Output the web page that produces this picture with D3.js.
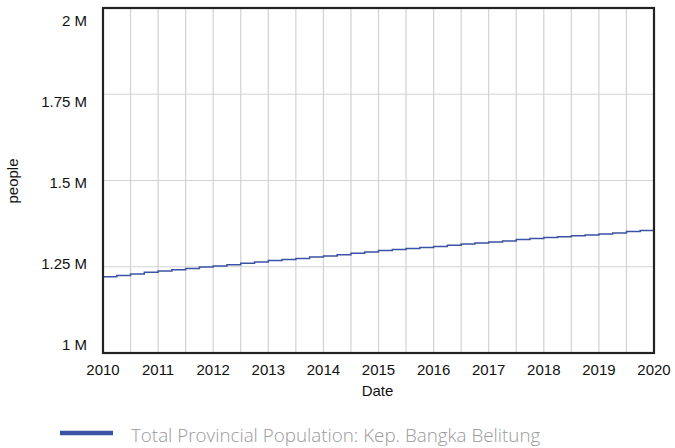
<!DOCTYPE html>
<html>
<head>
<meta charset="utf-8">
<script src="https://cdn.jsdelivr.net/npm/d3@7"></script>
<style>
  body { margin: 0; background: #fff; }
  svg { display: block; }
  .axis-text { font-family: "Liberation Sans", Arial, sans-serif; font-size: 15px; fill: #111; }
  .grid { stroke: #d2d2d2; stroke-width: 1.2; }
</style>
</head>
<body>
<div id="chart"></div>
<script>
const width = 675;
const height = 448;

// quarterly readings, millions of people
const dates = d3.range(0, 41).map(i => 2010 + i / 4);
const population = [
  1.221, 1.225, 1.229, 1.234,
  1.238, 1.241, 1.245, 1.249,
  1.252, 1.256, 1.260, 1.264,
  1.268, 1.271, 1.274, 1.278,
  1.281, 1.285, 1.289, 1.293,
  1.297, 1.300, 1.303, 1.306,
  1.309, 1.312, 1.316, 1.319,
  1.322, 1.325, 1.329, 1.332,
  1.335, 1.337, 1.340, 1.342,
  1.345, 1.348, 1.352, 1.355,
  1.359
];
const yearTicks = d3.range(2010, 2021);
const yTicks = [1, 1.25, 1.5, 1.75, 2];
const yLabels = ['1 M', '1.25 M', '1.5 M', '1.75 M', '2 M'];
const seriesName = 'Total Provincial Population: Kep. Bangka Belitung';

const plotLeft = 103, plotRight = 654, plotTop = 8, plotBottom = 353;

const x = d3.scaleLinear().domain([2010, 2020]).range([plotLeft, plotRight]);
const y = d3.scaleLinear().domain([1, 2]).range([plotBottom, plotTop]);
// tick labels sit slightly inside the frame in the original
const yLabelPos = d3.scaleLinear().domain([1, 2]).range([345, 21]);

const svg = d3.select('#chart')
  .append('svg')
  .attr('width', width)
  .attr('height', height);

// vertical grid every half year
svg.append('g')
  .selectAll('line')
  .data(d3.range(2010.5, 2020, 0.5))
  .enter()
  .append('line')
  .attr('class', 'grid')
  .attr('x1', d => x(d)).attr('x2', d => x(d))
  .attr('y1', plotTop).attr('y2', plotBottom);

// horizontal grid
svg.append('g')
  .selectAll('line')
  .data(yTicks.slice(1, -1))
  .enter()
  .append('line')
  .attr('class', 'grid')
  .attr('x1', plotLeft).attr('x2', plotRight)
  .attr('y1', d => y(d)).attr('y2', d => y(d));

// data line
const line = d3.line()
  .x((d, i) => x(dates[i]))
  .y(d => y(d))
  .curve(d3.curveStepAfter);

svg.append('path')
  .datum(population)
  .attr('fill', 'none')
  .attr('stroke', '#3a53a4')
  .attr('stroke-width', 1.5)
  .attr('d', line);

// frame
svg.append('rect')
  .attr('x', plotLeft).attr('y', plotTop)
  .attr('width', plotRight - plotLeft).attr('height', plotBottom - plotTop)
  .attr('fill', 'none')
  .attr('stroke', '#222')
  .attr('stroke-width', 2.2);

// y labels
svg.append('g')
  .selectAll('text')
  .data(yTicks)
  .enter()
  .append('text')
  .attr('class', 'axis-text')
  .attr('x', 87)
  .attr('y', d => yLabelPos(d))
  .attr('dy', '0.35em')
  .attr('text-anchor', 'end')
  .text((d, i) => yLabels[i]);

// x labels
svg.append('g')
  .selectAll('text')
  .data(yearTicks)
  .enter()
  .append('text')
  .attr('class', 'axis-text')
  .attr('x', d => x(d))
  .attr('y', 375)
  .attr('text-anchor', 'middle')
  .text(d => d);

svg.append('text')
  .attr('class', 'axis-text')
  .attr('x', (plotLeft + plotRight) / 2 - 1)
  .attr('y', 396)
  .attr('text-anchor', 'middle')
  .text('Date');

svg.append('text')
  .attr('class', 'axis-text')
  .attr('transform', 'translate(18,181) rotate(-90)')
  .attr('text-anchor', 'middle')
  .text('people');

// legend
svg.append('line')
  .attr('x1', 60).attr('x2', 113)
  .attr('y1', 433).attr('y2', 433)
  .attr('stroke', '#3a53a4')
  .attr('stroke-width', 4.5);

svg.append('text')
  .attr('x', 131)
  .attr('y', 442)
  .style('font-family', '"Open Sans", sans-serif')
  .style('font-weight', 300)
  .style('font-size', '18.8px')
  .style('fill', '#9a9a9a')
  .text(seriesName);
</script>
</body>
</html>
